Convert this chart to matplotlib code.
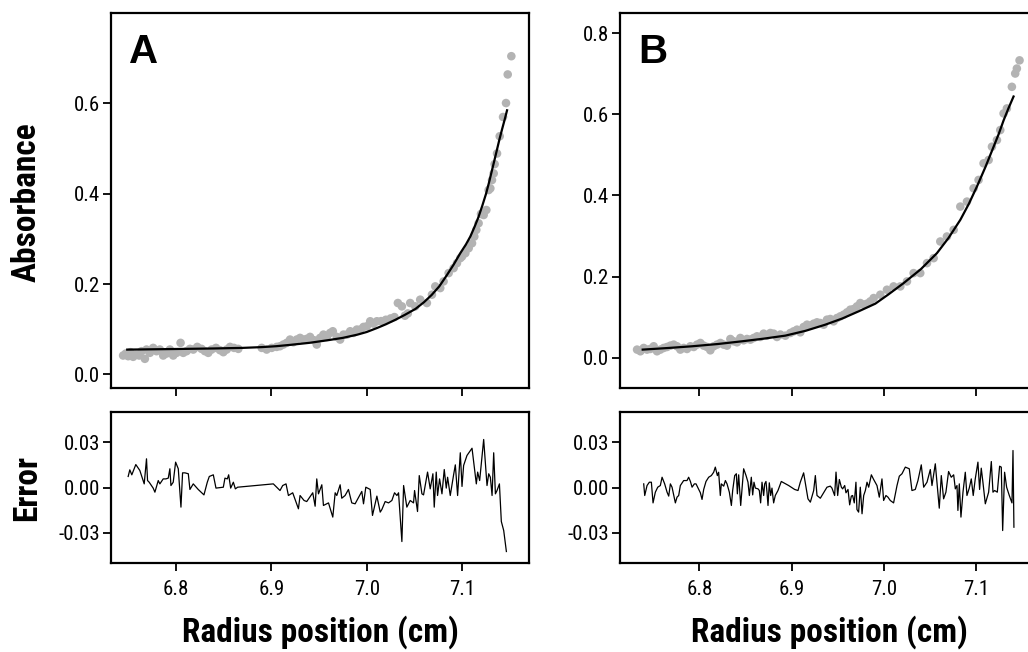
import matplotlib
matplotlib.use("Agg")
import matplotlib.pyplot as plt
from matplotlib import font_manager

# ---- data ----
# panel A: absorbance scan (grey points) and fitted curve
absA_x = [6.7447, 6.7475, 6.7500, 6.7524, 6.7552, 6.7580, 6.7615, 6.7640, 6.7675, 6.7692,
          6.7727, 6.7762, 6.7797, 6.7832, 6.7867, 6.7902, 6.7937, 6.7972, 6.8007, 6.8049,
          6.8077, 6.8112, 6.8147, 6.8182, 6.8224, 6.8269, 6.8304, 6.8339, 6.8374, 6.8420,
          6.8462, 6.8497, 6.8532, 6.8567, 6.8609, 6.8654, 6.8899, 6.8951, 6.9004, 6.9056,
          6.9091, 6.9126, 6.9161, 6.9196, 6.9231, 6.9266, 6.9301, 6.9336, 6.9371, 6.9406,
          6.9448, 6.9476, 6.9511, 6.9546, 6.9581, 6.9616, 6.9644, 6.9686, 6.9721, 6.9756,
          6.9791, 6.9826, 6.9861, 6.9896, 6.9931, 6.9966, 7.0001, 7.0036, 7.0071, 7.0106,
          7.0150, 7.0200, 7.0250, 7.0290, 7.0326, 7.0368, 7.0400, 7.0430, 7.0455, 7.0508,
          7.0560, 7.0630, 7.0683, 7.0718, 7.0770, 7.0805, 7.0858, 7.0910, 7.0945, 7.0980,
          7.0998, 7.1033, 7.1068, 7.1103, 7.1127, 7.1148, 7.1172, 7.1197, 7.1225, 7.1253,
          7.1277, 7.1295, 7.1312, 7.1330, 7.1340, 7.1365, 7.1393, 7.1428, 7.1459, 7.1477,
          7.1515]
absA_y = [0.0419, 0.0463, 0.0404, 0.0493, 0.0390, 0.0441, 0.0419, 0.0515, 0.0346, 0.0551,
          0.0478, 0.0588, 0.0515, 0.0551, 0.0419, 0.0463, 0.0551, 0.0419, 0.0478, 0.0699,
          0.0478, 0.0515, 0.0566, 0.0551, 0.0610, 0.0566, 0.0515, 0.0478, 0.0551, 0.0588,
          0.0537, 0.0493, 0.0551, 0.0610, 0.0588, 0.0566, 0.0588, 0.0551, 0.0588, 0.0610,
          0.0625, 0.0662, 0.0699, 0.0772, 0.0713, 0.0772, 0.0809, 0.0772, 0.0787, 0.0831,
          0.0757, 0.0662, 0.0809, 0.0882, 0.0831, 0.0919, 0.0956, 0.0831, 0.0772, 0.0882,
          0.0882, 0.0956, 0.0919, 0.0993, 0.0993, 0.1052, 0.1066, 0.1177, 0.1125, 0.1177,
          0.1180, 0.1210, 0.1240, 0.1270, 0.1581, 0.1507, 0.1300, 0.1350, 0.1581, 0.1507,
          0.1655, 0.1581, 0.1765, 0.1949, 0.1912, 0.2059, 0.2243, 0.2353, 0.2463, 0.2574,
          0.2610, 0.2684, 0.2794, 0.2904, 0.3052, 0.3199, 0.3346, 0.3552, 0.3529, 0.3640,
          0.4081, 0.4118, 0.4302, 0.4449, 0.4655, 0.4890, 0.5272, 0.5698, 0.6007, 0.6640,
          0.7044]
fitA_x = [6.749, 6.780, 6.810, 6.840, 6.870, 6.890, 6.905, 6.920, 6.940, 6.960,
          6.975, 6.990, 7.000, 7.011, 7.020, 7.030, 7.040, 7.051, 7.060, 7.068,
          7.076, 7.084, 7.091, 7.098, 7.104, 7.1085, 7.113, 7.117, 7.121, 7.125,
          7.128, 7.131, 7.134, 7.1365, 7.139, 7.1417, 7.1445, 7.147]
fitA_y = [0.0550, 0.0558, 0.0566, 0.0575, 0.0588, 0.0605, 0.0625, 0.0655, 0.0700, 0.0760,
          0.0810, 0.0880, 0.0940, 0.1030, 0.1110, 0.1210, 0.1320, 0.1450, 0.1600, 0.1760,
          0.1950, 0.2200, 0.2430, 0.2684, 0.2880, 0.3052, 0.3270, 0.3480, 0.3730, 0.4000,
          0.4240, 0.4500, 0.4760, 0.4980, 0.5200, 0.5420, 0.5640, 0.5846]

# panel A: residuals
errA_x = [6.7500, 6.7517, 6.7538, 6.7580, 6.7622, 6.7668, 6.7692, 6.7703, 6.7720, 6.7762,
          6.7780, 6.7815, 6.7832, 6.7867, 6.7895, 6.7920, 6.7937, 6.7948, 6.7972, 6.7997,
          6.8025, 6.8053, 6.8070, 6.8095, 6.8130, 6.8147, 6.8182, 6.8234, 6.8294, 6.8329,
          6.8350, 6.8392, 6.8420, 6.8497, 6.8514, 6.8539, 6.8553, 6.8574, 6.8602, 6.8623,
          6.8647, 6.9021, 6.9091, 6.9119, 6.9154, 6.9179, 6.9224, 6.9284, 6.9301, 6.9343,
          6.9371, 6.9434, 6.9459, 6.9476, 6.9494, 6.9529, 6.9546, 6.9599, 6.9644, 6.9669,
          6.9686, 6.9721, 6.9738, 6.9773, 6.9808, 6.9843, 6.9878, 6.9948, 6.9966, 6.9990,
          7.0036, 7.0060, 7.0106, 7.0141, 7.0158, 7.0193, 7.0228, 7.0263, 7.0291, 7.0316,
          7.0333, 7.0368, 7.0386, 7.0420, 7.0455, 7.0490, 7.0501, 7.0532, 7.0550, 7.0578,
          7.0595, 7.0637, 7.0665, 7.0693, 7.0707, 7.0728, 7.0742, 7.0763, 7.0788, 7.0812,
          7.0833, 7.0847, 7.0875, 7.0910, 7.0928, 7.0952, 7.0980, 7.0998, 7.1015, 7.1050,
          7.1103, 7.1148, 7.1162, 7.1183, 7.1225, 7.1260, 7.1278, 7.1295, 7.1313, 7.1330,
          7.1348, 7.1365, 7.1390, 7.1410, 7.1435, 7.1463]
errA_y = [0.0073, 0.0117, 0.0084, 0.0152, 0.0113, 0.0024, 0.0190, 0.0046, 0.0035, -0.0004,
          -0.0031, 0.0046, 0.0024, 0.0057, 0.0057, 0.0062, 0.0124, 0.0013, 0.0035, 0.0168,
          0.0124, -0.0130, 0.0097, 0.0097, 0.0091, -0.0013, 0.0024, -0.0013, -0.0049, 0.0035,
          0.0073, 0.0084, -0.0004, 0.0002, 0.0062, 0.0057, 0.0084, -0.0004, 0.0035, -0.0009,
          0.0002, 0.0024, -0.0020, 0.0013, 0.0024, -0.0053, -0.0035, -0.0141, -0.0053, -0.0086,
          -0.0093, -0.0035, -0.0124, 0.0057, -0.0042, 0.0018, -0.0119, -0.0102, -0.0196, -0.0035,
          -0.0053, 0.0018, -0.0071, -0.0053, -0.0013, -0.0102, -0.0108, -0.0026, -0.0108, 0.0002,
          -0.0013, -0.0185, -0.0057, -0.0163, -0.0146, -0.0093, -0.0102, -0.0086, -0.0035, -0.0053,
          -0.0035, -0.0358, 0.0013, -0.0130, -0.0086, -0.0102, -0.0020, -0.0159, 0.0079, -0.0042,
          -0.0049, 0.0102, -0.0009, 0.0091, -0.0130, 0.0102, -0.0053, 0.0057, -0.0042, 0.0119,
          -0.0004, 0.0068, -0.0053, 0.0084, 0.0150, -0.0053, 0.0230, 0.0007, 0.0146, 0.0212,
          0.0260, 0.0024, 0.0102, 0.0046, 0.0318, 0.0013, 0.0091, 0.0068, -0.0053, 0.0230,
          -0.0042, -0.0020, 0.0024, -0.0225, -0.0285, -0.0424]

# panel B: absorbance scan and fitted curve
absB_x = [6.7325, 6.7361, 6.7397, 6.7433, 6.7469, 6.7505, 6.7541, 6.7577, 6.7614, 6.7650,
          6.7686, 6.7722, 6.7758, 6.7794, 6.7830, 6.7866, 6.7903, 6.7939, 6.7975, 6.8011,
          6.8047, 6.8083, 6.8119, 6.8155, 6.8191, 6.8228, 6.8264, 6.8300, 6.8336, 6.8372,
          6.8408, 6.8444, 6.8480, 6.8516, 6.8553, 6.8589, 6.8625, 6.8661, 6.8697, 6.8733,
          6.8769, 6.8805, 6.8841, 6.8878, 6.8932, 6.8986, 6.9022, 6.9058, 6.9094, 6.9130,
          6.9167, 6.9203, 6.9239, 6.9275, 6.9311, 6.9347, 6.9383, 6.9419, 6.9455, 6.9491,
          6.9528, 6.9564, 6.9600, 6.9636, 6.9672, 6.9708, 6.9744, 6.9780, 6.9816, 6.9853,
          6.9889, 6.9961, 7.0033, 7.0105, 7.0178, 7.0250, 7.0322, 7.0394, 7.0467, 7.0539,
          7.0611, 7.0683, 7.0756, 7.0828, 7.0900, 7.0972, 7.1026, 7.1080, 7.1135, 7.1171,
          7.1225, 7.1261, 7.1297, 7.1333, 7.1387, 7.1423, 7.1441, 7.1470]
absB_y = [0.0197, 0.0156, 0.0238, 0.0197, 0.0213, 0.0279, 0.0156, 0.0197, 0.0238, 0.0262,
          0.0295, 0.0320, 0.0279, 0.0197, 0.0238, 0.0213, 0.0279, 0.0262, 0.0320, 0.0361,
          0.0295, 0.0262, 0.0180, 0.0279, 0.0320, 0.0361, 0.0320, 0.0295, 0.0459, 0.0402,
          0.0377, 0.0484, 0.0427, 0.0459, 0.0443, 0.0484, 0.0525, 0.0509, 0.0591, 0.0541,
          0.0607, 0.0591, 0.0509, 0.0568, 0.0541, 0.0607, 0.0648, 0.0689, 0.0624, 0.0755,
          0.0812, 0.0788, 0.0837, 0.0870, 0.0853, 0.0812, 0.0935, 0.0952, 0.0894, 0.0976,
          0.1018, 0.1059, 0.1116, 0.1182, 0.1198, 0.1264, 0.1346, 0.1305, 0.1329, 0.1387,
          0.1469, 0.1551, 0.1674, 0.1756, 0.1756, 0.1879, 0.2084, 0.2084, 0.2330, 0.2453,
          0.2864, 0.2987, 0.3151, 0.3725, 0.3848, 0.4176, 0.4382, 0.4792, 0.4874, 0.5202,
          0.5366, 0.5612, 0.6023, 0.6146, 0.6679, 0.7007, 0.7130, 0.7332]
fitB_x = [6.7386, 6.765, 6.7921, 6.820, 6.8462, 6.870, 6.8932, 6.915, 6.9365, 6.955,
          6.9726, 6.9907, 7.005, 7.0214, 7.040, 7.0575, 7.070, 7.0828, 7.092, 7.1008,
          7.110, 7.1189, 7.1245, 7.1297, 7.135, 7.1405]
fitB_y = [0.0197, 0.0235, 0.0279, 0.0335, 0.0402, 0.0468, 0.0542, 0.0660, 0.0812, 0.0965,
          0.1141, 0.1330, 0.1560, 0.1838, 0.2180, 0.2577, 0.2950, 0.3397, 0.3790, 0.4218,
          0.4700, 0.5202, 0.5520, 0.5850, 0.6150, 0.6440]

# panel B: residuals
errB_x = [6.7397, 6.7408, 6.7433, 6.7458, 6.7480, 6.7498, 6.7523, 6.7549, 6.7577, 6.7596,
          6.7624, 6.7650, 6.7668, 6.7686, 6.7704, 6.7740, 6.7758, 6.7776, 6.7794, 6.7830,
          6.7866, 6.7884, 6.7903, 6.7921, 6.7946, 6.7964, 6.7993, 6.8011, 6.8029, 6.8047,
          6.8072, 6.8101, 6.8130, 6.8155, 6.8173, 6.8195, 6.8209, 6.8227, 6.8238, 6.8264,
          6.8282, 6.8300, 6.8325, 6.8347, 6.8361, 6.8383, 6.8401, 6.8412, 6.8426, 6.8448,
          6.8480, 6.8506, 6.8527, 6.8542, 6.8563, 6.8578, 6.8592, 6.8607, 6.8636, 6.8650,
          6.8664, 6.8679, 6.8697, 6.8708, 6.8722, 6.8733, 6.8744, 6.8758, 6.8773, 6.8787,
          6.8805, 6.8823, 6.8852, 6.8888, 6.8968, 6.9033, 6.9069, 6.9094, 6.9130, 6.9177,
          6.9203, 6.9239,
          6.9257, 6.9275, 6.9311, 6.9347, 6.9383, 6.9419, 6.9437, 6.9466, 6.9481, 6.9499,
          6.9517, 6.9539, 6.9553, 6.9575, 6.9589, 6.9611, 6.9629, 6.9647, 6.9661, 6.9679,
          6.9697, 6.9708, 6.9726, 6.9744, 6.9763, 6.9781, 6.9799, 6.9817, 6.9835, 6.9864,
          6.9889, 6.9925, 6.9950, 6.9979, 6.9997, 7.0022, 7.0044, 7.0069, 7.0105, 7.0142,
          7.0167, 7.0196, 7.0232, 7.0275, 7.0304, 7.0340, 7.0369, 7.0405, 7.0431, 7.0467,
          7.0503, 7.0521, 7.0557, 7.0575, 7.0600, 7.0622, 7.0647, 7.0672, 7.0701, 7.0730,
          7.0756, 7.0774, 7.0792, 7.0802, 7.0817, 7.0835, 7.0857, 7.0882, 7.0900, 7.0925,
          7.0947, 7.0968, 7.0990, 7.1019, 7.1037, 7.1055, 7.1073, 7.1099, 7.1135, 7.1164,
          7.1182, 7.1200, 7.1229, 7.1254, 7.1272, 7.1287, 7.1308, 7.1330, 7.1359, 7.1388,
          7.1399, 7.1409]
errB_y = [0.0024, -0.0053, 0.0013, 0.0035, 0.0035, -0.0102, -0.0031, 0.0002, 0.0013, 0.0068,
          0.0024, -0.0031, -0.0057, 0.0024, 0.0002, -0.0102, -0.0064, -0.0053, 0.0013, 0.0046,
          0.0046, 0.0068, 0.0040, 0.0002, 0.0024, 0.0024, -0.0013, -0.0035, -0.0079, -0.0013,
          0.0040, 0.0068, 0.0079, 0.0101, 0.0135, 0.0079, 0.0101, -0.0053, 0.0024, 0.0009,
          0.0046, 0.0024, -0.0031, -0.0119, -0.0020, 0.0079, 0.0091, -0.0042, 0.0084, -0.0119,
          0.0124, 0.0079, 0.0035, -0.0053, 0.0068, -0.0049, 0.0035, -0.0004, -0.0009, -0.0020,
          -0.0102, 0.0035, -0.0053, 0.0024, 0.0040, -0.0031, -0.0119, 0.0031, -0.0053, -0.0004,
          -0.0102, -0.0053, -0.0020, 0.0040, 0.0013, -0.0013, -0.0020, 0.0035, 0.0097, -0.0075,
          -0.0097, -0.0020,
          0.0079, -0.0053, -0.0071, -0.0035, 0.0002, 0.0009, -0.0004, -0.0053, 0.0102, -0.0053,
          0.0053, 0.0002, -0.0009, 0.0013, -0.0035, -0.0013, -0.0115, -0.0057, -0.0053, -0.0102,
          0.0035, -0.0146, -0.0163, 0.0002, -0.0174, -0.0053, -0.0020, 0.0035, 0.0002, 0.0084,
          0.0053, 0.0013, -0.0064, 0.0057, -0.0086, -0.0053, -0.0064, -0.0086, -0.0102, 0.0013,
          0.0075, 0.0091, 0.0135, 0.0124, -0.0020, -0.0013, 0.0046, 0.0150, 0.0002, 0.0035,
          0.0119, 0.0013, 0.0157, 0.0035, -0.0137, 0.0079, -0.0075, -0.0031, 0.0106, 0.0068,
          0.0084, -0.0009, 0.0013, -0.0152, 0.0024, -0.0196, -0.0031, 0.0101, -0.0053, -0.0004,
          0.0057, -0.0053, 0.0057, 0.0168, -0.0013, 0.0128, 0.0035, -0.0108, -0.0031, 0.0172,
          -0.0031, -0.0020, -0.0031, 0.0141, 0.0135, -0.0285, 0.0101, 0.0002, -0.0053, -0.0102,
          0.0245, -0.0263]

x_ticks = [6.8, 6.9, 7.0, 7.1]
x_ticklabels = ["6.8", "6.9", "7.0", "7.1"]
absA_ticks = [0.0, 0.2, 0.4, 0.6]
absA_ticklabels = ["0.0", "0.2", "0.4", "0.6"]
absB_ticks = [0.0, 0.2, 0.4, 0.6, 0.8]
absB_ticklabels = ["0.0", "0.2", "0.4", "0.6", "0.8"]
err_ticks = [-0.03, 0.0, 0.03]
err_ticklabels = ["-0.03", "0.00", "0.03"]

# ---- fonts: a condensed sans with a real bold weight ----
fonts = font_manager.fontManager.ttflist
installed = {f.name for f in fonts}
bold_ok = {f.name for f in fonts if f.weight in (600, 700, 800, "bold", "semibold")}
condensed = ["Roboto Condensed", "IBM Plex Sans Condensed", "Fira Sans Condensed",
             "PT Sans Narrow", "Open Sans Condensed", "Archivo Narrow", "Liberation Sans"]
label_font = next((f for f in condensed if f in bold_ok), "DejaVu Sans")
tick_font = next((f for f in condensed if f in installed), "DejaVu Sans")
plain = next((f for f in ["Liberation Sans", "Arimo", "Roboto"] if f in installed), "DejaVu Sans")
plt.rcParams["font.family"] = [tick_font, "DejaVu Sans"]
plt.rcParams["axes.unicode_minus"] = False

W, H = 1028, 652
fig = plt.figure(figsize=(W / 100, H / 100), dpi=100)


def box(l, t, r, b):
    # pixel box -> figure fraction
    return [l / W, 1 - b / H, (r - l) / W, (b - t) / H]


def style(ax):
    for s in ax.spines.values():
        s.set_linewidth(1.6)
    ax.tick_params(direction="out", length=6, width=1.3, labelsize=15, pad=2)
    ax.tick_params(axis="x", pad=6)


def panel(left, right, xlim, ax_x, ax_y, fx, fy, ex, ey, ylim, yt, ytl, letter):
    ax = fig.add_axes(box(left, 13, right, 388))
    ax.scatter(ax_x, ax_y, s=38, color="#b3b3b3", edgecolors="none", zorder=2)
    ax.plot(fx, fy, color="black", lw=1.6, zorder=3)
    ax.set_xlim(*xlim)
    ax.set_ylim(*ylim)
    ax.set_xticks(x_ticks)
    ax.set_xticklabels([])
    ax.set_yticks(yt)
    ax.set_yticklabels(ytl)
    style(ax)
    ax.text(0.043, 0.947, letter, transform=ax.transAxes, ha="left", va="top",
            fontsize=29, fontweight="bold", family=plain)

    er = fig.add_axes(box(left, 412, right, 563))
    er.plot(ex, ey, color="black", lw=0.9)
    er.set_xlim(*xlim)
    er.set_ylim(-0.05, 0.05)
    er.set_xticks(x_ticks)
    er.set_xticklabels(x_ticklabels)
    er.set_yticks(err_ticks)
    er.set_yticklabels(err_ticklabels)
    style(er)
    fig.text(((left + right) / 2) / W, 1 - 632 / H, "Radius position (cm)",
             ha="center", va="center", fontsize=24, fontweight="bold", family=label_font)


panel(111, 529, (6.732, 7.170), absA_x, absA_y, fitA_x, fitA_y, errA_x, errA_y,
      (-0.03, 0.80), absA_ticks, absA_ticklabels, "A")
panel(620, 1038, (6.714, 7.167), absB_x, absB_y, fitB_x, fitB_y, errB_x, errB_y,
      (-0.075, 0.85), absB_ticks, absB_ticklabels, "B")

fig.text(27 / W, 1 - 202 / H, "Absorbance", rotation=90, ha="center", va="center",
         fontsize=24, fontweight="bold", family=label_font)
fig.text(27 / W, 1 - 488 / H, "Error", rotation=90, ha="center", va="center",
         fontsize=24, fontweight="bold", family=label_font)

fig.savefig("out.png", dpi=100)
